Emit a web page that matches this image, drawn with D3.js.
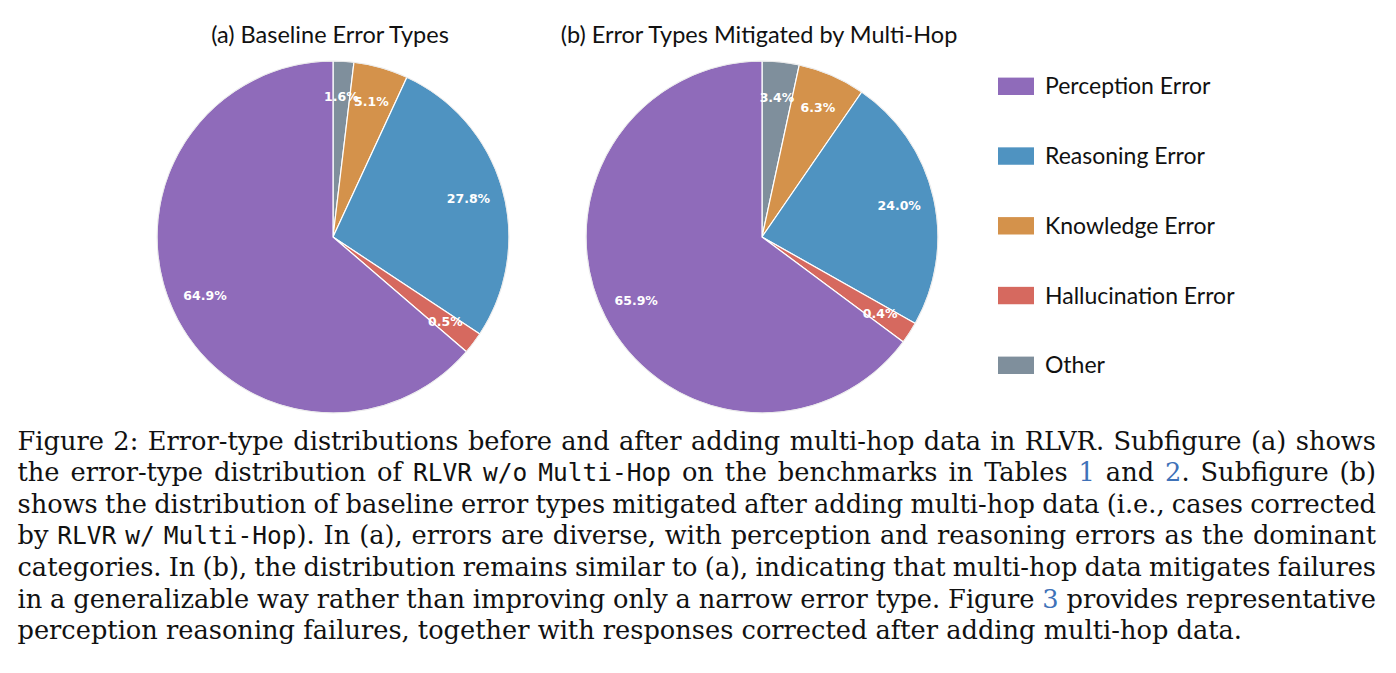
<!DOCTYPE html>
<html><head><meta charset="utf-8">
<script src="https://cdn.jsdelivr.net/npm/d3@7"></script>
<style>html,body{margin:0;padding:0;background:#fff;}svg{display:block;}</style>
</head><body>
<svg id="chart" width="1396" height="673"></svg>
<script>
// ---------- data ----------
const categories = ["Perception Error", "Reasoning Error", "Knowledge Error", "Hallucination Error", "Other"];
const colors = ["#8f6bba", "#4f93c1", "#d4924b", "#d6695f", "#7f8f9c"];
// slice shares as drawn (percent of the circle)
const sharesA = [63.7, 27.4, 5.0, 2.0, 1.9];
const sharesB = [64.9, 23.6, 6.2, 2.0, 3.4];
// printed percentage labels
const labelsA = ["64.9%", "27.8%", "5.1%", "0.5%", "1.6%"];
const labelsB = ["65.9%", "24.0%", "6.3%", "0.4%", "3.4%"];
const titles = ["(a) Baseline Error Types", "(b) Error Types Mitigated by Multi-Hop"];
// clockwise drawing order from 12 o'clock
const drawOrder = ["Other", "Knowledge Error", "Reasoning Error", "Hallucination Error", "Perception Error"];
// caption ({..} = monospace, [..] = link colour)
const captionLines = [
  "Figure 2: Error-type distributions before and after adding multi-hop data in RLVR. Subfigure (a) shows",
  "the error-type distribution of {RLVR} {w/o} {Multi-Hop} on the benchmarks in Tables [1] and [2]. Subfigure (b)",
  "shows the distribution of baseline error types mitigated after adding multi-hop data (i.e., cases corrected",
  "by {RLVR} {w/} {Multi-Hop}). In (a), errors are diverse, with perception and reasoning errors as the dominant",
  "categories. In (b), the distribution remains similar to (a), indicating that multi-hop data mitigates failures",
  "in a generalizable way rather than improving only a narrow error type. Figure [3] provides representative",
  "perception reasoning failures, together with responses corrected after adding multi-hop data."
];

// ---------- chart ----------
const svg = d3.select("#chart");
svg.append("rect").attr("width", 1396).attr("height", 673).attr("fill", "#fff");

const color = d3.scaleOrdinal().domain(categories).range(colors);
const R = 176;
const pies = [
  {cx: 333, cy: 237, shares: sharesA, labels: labelsA, title: titles[0], tx: 330},
  {cx: 762, cy: 237, shares: sharesB, labels: labelsB, title: titles[1], tx: 759}
];
const pie = d3.pie().sort(null).value(d => d.v).startAngle(0).endAngle(2 * Math.PI);
const arc = d3.arc().innerRadius(0).outerRadius(R);
const labelArc = d3.arc().innerRadius(R * 0.8).outerRadius(R * 0.8);

pies.forEach(p => {
  const rows = drawOrder.map(c => {
    const i = categories.indexOf(c);
    return {cat: c, v: p.shares[i], label: p.labels[i]};
  });
  const g = svg.append("g").attr("transform", `translate(${p.cx},${p.cy})`);
  const arcs = pie(rows);
  g.selectAll("path.slice").data(arcs).join("path")
    .attr("class", "slice")
    .attr("d", arc)
    .attr("fill", d => color(d.data.cat))
    .attr("stroke", "#fff")
    .attr("stroke-width", 1.2)
    .attr("stroke-linejoin", "round");
  g.append("circle").attr("r", R).attr("fill", "none").attr("stroke", "#e4e4e4").attr("stroke-width", 0.8);
  g.selectAll("text.pct").data(arcs).join("text")
    .attr("class", "pct")
    .attr("transform", d => `translate(${labelArc.centroid(d)})`)
    .attr("text-anchor", "middle")
    .attr("dominant-baseline", "central")
    .attr("font-family", "DejaVu Sans")
    .attr("font-weight", "bold")
    .attr("font-size", 12.5)
    .attr("fill", "#fff")
    .text(d => d.data.label);
  svg.append("text")
    .attr("x", p.tx).attr("y", 43)
    .attr("text-anchor", "middle")
    .attr("font-family", "Lato")
    .attr("font-size", 23.5)
    .attr("fill", "#111")
    .text(p.title);
});

// legend
const legY = d3.scalePoint().domain(categories).range([86.3, 365.3]);
const leg = svg.append("g");
categories.forEach(c => {
  const y = legY(c);
  leg.append("rect").attr("x", 998).attr("y", y - 8.7).attr("width", 36).attr("height", 17.4).attr("fill", color(c));
  leg.append("text").attr("x", 1045).attr("y", y + 8)
    .attr("font-family", "Lato").attr("font-size", 23).attr("fill", "#111").text(c);
});

// ---------- caption ----------
const capX0 = 17.5, capX1 = 1376, capY0 = 449.5, capStep = 31.65;
const lastLineEnd = 1243;
let serifSize = 25;
const monoSize = 24.5;
const serifFont = "DejaVu Serif";
const monoFont = "DejaVu Sans Mono";
const linkColor = "#3f72b8";

function parseWord(w) {
  const parts = [];
  const re = /\{([^}]*)\}|\[([^\]]*)\]|([^{\[]+)/g;
  let m;
  while ((m = re.exec(w)) !== null) {
    if (m[1] !== undefined) parts.push({t: m[1], s: "mono"});
    else if (m[2] !== undefined) parts.push({t: m[2], s: "link"});
    else parts.push({t: m[3], s: "serif"});
  }
  return parts;
}
const capG = svg.append("g");
function makeWord(parts, x, y) {
  const t = capG.append("text").attr("x", x).attr("y", y).attr("fill", "#111")
    .attr("font-family", serifFont).attr("font-size", serifSize);
  parts.forEach(p => {
    const ts = t.append("tspan").text(p.t);
    if (p.s === "mono") ts.attr("font-family", monoFont).attr("font-size", monoSize);
    if (p.s === "link") ts.attr("fill", linkColor);
  });
  return t;
}
function measure(line) {
  const words = line.split(" ").map(parseWord);
  const ws = words.map(w => { const t = makeWord(w, 0, -100); const l = t.node().getComputedTextLength(); t.remove(); return l; });
  const t1 = makeWord([{t: "a a", s: "serif"}], 0, -100); const a = t1.node().getComputedTextLength(); t1.remove();
  const t2 = makeWord([{t: "aa", s: "serif"}], 0, -100); const b = t2.node().getComputedTextLength(); t2.remove();
  const sp = a - b;
  return {words, ws, sp, tot: d3.sum(ws) + sp * (words.length - 1)};
}
// calibrate serif size on the last (unjustified) line, capped so lines never collide
const cal = measure(captionLines[captionLines.length - 1]);
serifSize = Math.min(26.5, serifSize * (lastLineEnd - capX0) / cal.tot);

captionLines.forEach((line, li) => {
  const nw = measure(line);
  const y = capY0 + li * capStep;
  const last = li === captionLines.length - 1;
  const gap = last ? nw.sp : (capX1 - capX0 - d3.sum(nw.ws)) / (nw.words.length - 1);
  let x = capX0;
  nw.words.forEach((w, i) => {
    makeWord(w, x, y);
    x += nw.ws[i] + gap;
  });
});
</script>
</body></html>
